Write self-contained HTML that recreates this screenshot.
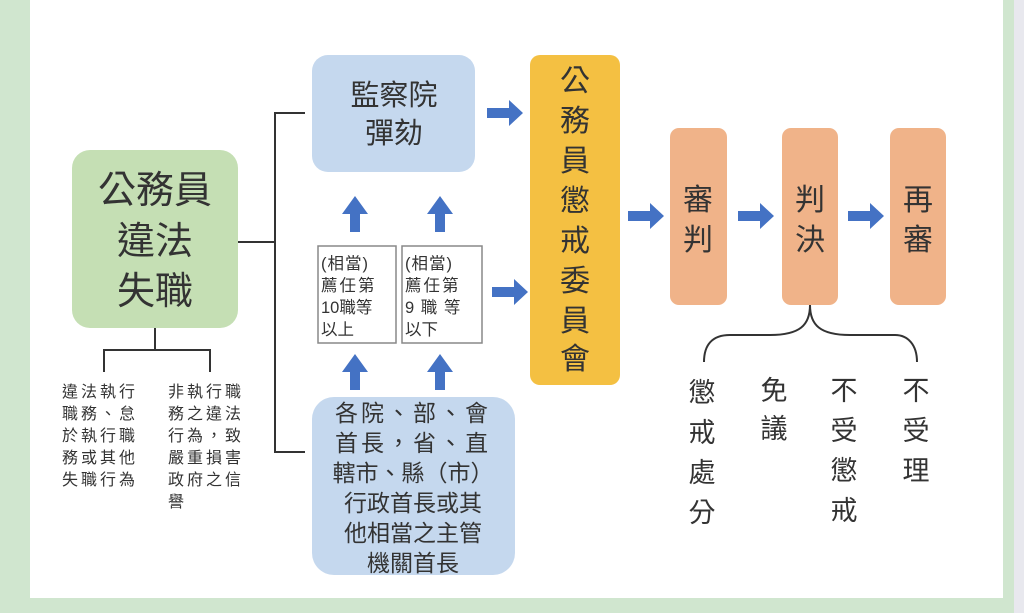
<!DOCTYPE html>
<html><head><meta charset="utf-8"><style>
html,body{margin:0;padding:0;width:1024px;height:613px;overflow:hidden;background:#fff}
svg{display:block}
text{font-family:"Liberation Sans","Noto Sans CJK TC",sans-serif;fill:#333}
</style></head><body>
<svg width="1024" height="613" viewBox="0 0 1024 613">
<defs>
<g id="ar"><polygon points="0,-5 22,-5 22,-13 36,0 22,13 22,5 0,5" fill="#4472c4"/></g>
<g id="au"><polygon points="-5,18 -5,0 -13,0 0,-18 13,0 5,0 5,18" fill="#4472c4"/></g>
</defs>
<rect x="0" y="0" width="1024" height="613" fill="#d0e6cf"/>
<rect x="1014" y="0" width="10" height="613" fill="#e8e8ee"/>
<rect x="30" y="0" width="973" height="598" fill="#fff"/>

<rect x="72" y="150" width="166" height="178" rx="18" fill="#c5dfb4"/>
<g font-size="38" text-anchor="middle">
<text x="155" y="203">公務員</text><text x="155" y="254">違法</text><text x="155" y="304">失職</text>
</g>
<g stroke="#333" stroke-width="2" fill="none">
<path d="M155 328 V350 M104 372 V350 H210 V372"/>
<path d="M238 242 H275 M305 113 H275 V452 H305"/>
</g>
<g font-size="16" fill="#444" letter-spacing="3">
<text x="62" y="397">違法執行</text><text x="62" y="419">職務、怠</text><text x="62" y="441">於執行職</text><text x="62" y="463">務或其他</text><text x="62" y="485">失職行為</text>
<text x="168" y="397">非執行職</text><text x="168" y="419">務之違法</text><text x="168" y="441">行為，致</text><text x="168" y="463">嚴重損害</text><text x="168" y="485">政府之信</text><text x="168" y="507">譽</text>
</g>

<rect x="312" y="55" width="163" height="117" rx="16" fill="#c5d8ee"/>
<g font-size="29" text-anchor="middle"><text x="394" y="105">監察院</text><text x="394" y="143">彈劾</text></g>
<use href="#ar" x="487" y="113"/>
<use href="#au" x="355" y="214"/><use href="#au" x="440" y="214"/>
<use href="#au" x="355" y="372"/><use href="#au" x="440" y="372"/>
<rect x="318" y="246" width="78" height="97" fill="#fff" stroke="#888" stroke-width="1.5"/>
<rect x="402" y="246" width="80" height="97" fill="#fff" stroke="#888" stroke-width="1.5"/>
<g font-size="16.5" fill="#444">
<text x="321" y="269" letter-spacing="1">(相當)</text><text x="321" y="291" letter-spacing="2">薦任第</text><text x="321" y="313">10職等</text><text x="321" y="335">以上</text>
<text x="405" y="269" letter-spacing="1">(相當)</text><text x="405" y="291" letter-spacing="2">薦任第</text><text x="405" y="313" letter-spacing="1">9 職 等</text><text x="405" y="335">以下</text>
</g>
<use href="#ar" x="492" y="292"/>
<rect x="312" y="397" width="203" height="178" rx="22" fill="#c5d8ee"/>
<g font-size="23" text-anchor="middle">
<text x="413" y="421" letter-spacing="3">各院、部、會</text>
<text x="413" y="451" letter-spacing="3">首長，省、直</text>
<text x="413" y="481">轄市、縣（市）</text>
<text x="413" y="511">行政首長或其</text>
<text x="413" y="541">他相當之主管</text>
<text x="413" y="571">機關首長</text>
</g>

<rect x="530" y="55" width="90" height="330" rx="10" fill="#f4c042"/>
<g font-size="30" text-anchor="middle">
<text x="575" y="91">公</text><text x="575" y="131">務</text><text x="575" y="171">員</text><text x="575" y="211">懲</text><text x="575" y="251">戒</text><text x="575" y="291">委</text><text x="575" y="331">員</text><text x="575" y="369">會</text>
</g>
<use href="#ar" x="628" y="216"/>
<rect x="670" y="128" width="57" height="177" rx="9" fill="#f0b389"/>
<rect x="782" y="128" width="56" height="177" rx="9" fill="#f0b389"/>
<rect x="890" y="128" width="56" height="177" rx="9" fill="#f0b389"/>
<g font-size="30" text-anchor="middle">
<text x="698" y="210">審</text><text x="698" y="250">判</text>
<text x="810" y="210">判</text><text x="810" y="250">決</text>
<text x="918" y="210">再</text><text x="918" y="250">審</text>
</g>
<use href="#ar" x="738" y="216"/><use href="#ar" x="848" y="216"/>
<path d="M810 305 C810 325 800 335 770 335 H730 C712 335 704 345 704 362 M810 305 C810 325 820 335 850 335 H895 C908 335 917 345 917 362" stroke="#333" stroke-width="2" fill="none"/>
<g font-size="27" text-anchor="middle">
<text x="702" y="402">懲</text><text x="702" y="442">戒</text><text x="702" y="482">處</text><text x="702" y="522">分</text>
<text x="774" y="400">免</text><text x="774" y="438">議</text>
<text x="844" y="400">不</text><text x="844" y="440">受</text><text x="844" y="480">懲</text><text x="844" y="520">戒</text>
<text x="916" y="400">不</text><text x="916" y="440">受</text><text x="916" y="480">理</text>
</g>
</svg>
</body></html>
